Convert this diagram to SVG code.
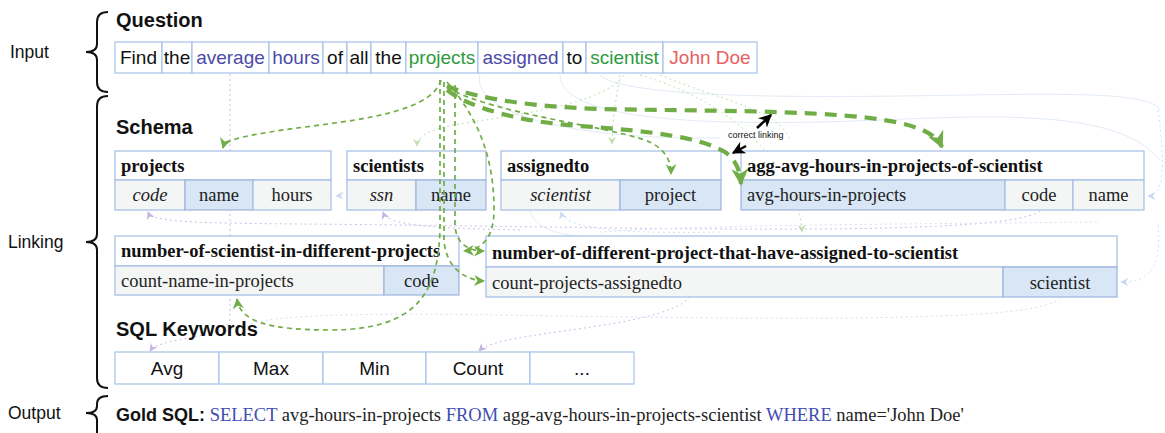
<svg xmlns="http://www.w3.org/2000/svg" width="1165" height="433" viewBox="0 0 1165 433">
<style>
.lbl{font-family:"Liberation Sans",Arial,sans-serif;font-size:17.5px;fill:#111}
.sec{font-family:"Liberation Sans",Arial,sans-serif;font-size:20px;font-weight:bold;fill:#111}
.q{font-family:"Liberation Sans",Arial,sans-serif;font-size:19px;text-anchor:middle;fill:#111}
.qb{fill:#4a4aa6}.qg{fill:#2e9a3e}.qr{fill:#e8605f}
.qbox{fill:#fff;stroke:#a6c1ea;stroke-width:1.2}
.hdr{fill:#fff;stroke:#a3bde6;stroke-width:1.2}
.cg{fill:#f4f5f5;stroke:#a3bde6;stroke-width:1.2}
.cb{fill:#d8e6f5;stroke:#9bb5dd;stroke-width:1.2}
.th{font-family:"Liberation Serif","Times New Roman",serif;font-size:18.5px;font-weight:bold;fill:#111}
.td{font-family:"Liberation Serif","Times New Roman",serif;font-size:18.5px;fill:#222}
.tc{text-anchor:middle}.it{font-style:italic}
.kw{font-family:"Liberation Sans",Arial,sans-serif;font-size:19px;text-anchor:middle;fill:#111}
.brace{fill:none;stroke:#111;stroke-width:2}
.gm{fill:none;stroke:#70ad47;stroke-width:1.7;stroke-dasharray:5 4}
.gt{fill:none;stroke:#70ad47;stroke-width:4.2;stroke-dasharray:12 8}
.fg{fill:none;stroke:#c3e0b0;stroke-width:1;stroke-dasharray:2 3}
.fp{fill:none;stroke:#cdbfe8;stroke-width:1;stroke-dasharray:2 3}
.fb{fill:none;stroke:#d3e1f3;stroke-width:1;stroke-dasharray:2 3}
.fs{fill:none;stroke:#e2ebf6;stroke-width:1}
.bk{fill:none;stroke:#000;stroke-width:2.5}
</style>
<defs>
<marker id="mg" markerUnits="userSpaceOnUse" viewBox="0 0 10 10" refX="9" refY="5" markerWidth="11" markerHeight="11" orient="auto"><path d="M0,0 L10,5 L0,10 L3,5 z" fill="#70ad47"/></marker>
<marker id="mgt" markerUnits="userSpaceOnUse" viewBox="0 0 10 10" refX="9" refY="5" markerWidth="17" markerHeight="17" orient="auto"><path d="M0,0 L10,5 L0,10 L3,5 z" fill="#70ad47"/></marker>
<marker id="mk" markerUnits="userSpaceOnUse" viewBox="0 0 10 10" refX="9" refY="5" markerWidth="13" markerHeight="13" orient="auto"><path d="M0,0 L10,5 L0,10 L3,5 z" fill="#000"/></marker>
<marker id="mfg" markerUnits="userSpaceOnUse" viewBox="0 0 10 10" refX="9" refY="5" markerWidth="8" markerHeight="8" orient="auto"><path d="M0,0 L10,5 L0,10 L3,5 z" fill="#c3e0b0"/></marker>
<marker id="mfp" markerUnits="userSpaceOnUse" viewBox="0 0 10 10" refX="9" refY="5" markerWidth="8" markerHeight="8" orient="auto"><path d="M0,0 L10,5 L0,10 L3,5 z" fill="#c2b3e3"/></marker>
<marker id="mfb" markerUnits="userSpaceOnUse" viewBox="0 0 10 10" refX="9" refY="5" markerWidth="8" markerHeight="8" orient="auto"><path d="M0,0 L10,5 L0,10 L3,5 z" fill="#c9daf0"/></marker>
</defs>
<rect width="1165" height="433" fill="#fff"/>

<g id="faint-connectors">
<path class="fs" d="M560 75 C560 118 690 128 880 120 C1000 115 1120 110 1160 160"/>
<path class="fs" d="M600 75 C620 95 760 98 900 96 C1050 94 1150 90 1160 110"/>
<path class="fs" d="M480 74 C470 110 560 140 720 138"/>
<path class="fs" d="M530 190 C520 230 560 240 620 236"/>
<path class="fg" d="M624 75 C600 110 480 118 440 128 C424 133 417 139 417 146" marker-end="url(#mfg)"/>
<path class="fg" d="M620 75 C616 100 612 120 612 144" marker-end="url(#mfg)"/>
<path class="fg" d="M640 75 C760 110 800 190 802 232" marker-end="url(#mfg)"/>
<path class="fg" d="M660 75 C720 100 780 110 790 140"/>
<path class="fp" d="M230 74 L230 318 C230 340 160 336 150 351" marker-end="url(#mfp)"/>
<path class="fp" d="M690 297 C660 330 500 330 479 351" marker-end="url(#mfp)"/>
<path class="fp" d="M1040 211 C1000 240 600 226 300 224 C190 223 152 222 148 212" marker-end="url(#mfp)"/>
<path class="fp" d="M520 230 C430 228 388 226 383 212" marker-end="url(#mfp)"/>
<path class="fb" d="M720 232 C630 234 566 230 561 212" marker-end="url(#mfb)"/>
<path class="fb" d="M360 150 C352 170 352 195 336 196" marker-end="url(#mfb)"/>
<path class="fb" d="M1158 110 C1165 160 1165 196 1148 196" marker-end="url(#mfb)"/>
<path class="fb" d="M1158 225 C1162 268 1150 282 1121 282" marker-end="url(#mfb)"/>
<path class="fb" d="M1060 298 C1040 318 900 322 500 315 C300 312 250 318 240 330"/>
<path class="fb" d="M600 232 C700 225 900 224 1100 222"/>
</g>

<g id="side-labels">
<path class="brace" d="M108 12 Q97 12 97 22 L97 44 Q97 52 86 52 Q97 52 97 60 L97 82 Q97 92 108 92"/>
<path class="brace" d="M108 96 Q97 96 97 106 L97 234 Q97 242 86 242 Q97 242 97 250 L97 378 Q97 388 108 388"/>
<path class="brace" d="M108 396 Q97 396 97 404 L97 406 Q97 413 86 413 Q97 413 97 420 L97 440"/>
<text class="lbl" x="10" y="58">Input</text>
<text class="lbl" x="8" y="248">Linking</text>
<text class="lbl" x="8" y="419">Output</text>
</g>

<text class="sec" x="116" y="27">Question</text>
<g id="question">
<rect class="qbox" x="115" y="42" width="47" height="31"/>
<rect class="qbox" x="162" y="42" width="30" height="31"/>
<rect class="qbox" x="192" y="42" width="77" height="31"/>
<rect class="qbox" x="269" y="42" width="54" height="31"/>
<rect class="qbox" x="323" y="42" width="24" height="31"/>
<rect class="qbox" x="347" y="42" width="24" height="31"/>
<rect class="qbox" x="371" y="42" width="35" height="31"/>
<rect class="qbox" x="406" y="42" width="72" height="31"/>
<rect class="qbox" x="478" y="42" width="85" height="31"/>
<rect class="qbox" x="563" y="42" width="23" height="31"/>
<rect class="qbox" x="586" y="42" width="77" height="31"/>
<rect class="qbox" x="663" y="42" width="94" height="31"/>
<text class="q" x="138.5" y="64">Find</text>
<text class="q" x="177" y="64">the</text>
<text class="q qb" x="230.5" y="64">average</text>
<text class="q qb" x="296" y="64">hours</text>
<text class="q" x="335" y="64">of</text>
<text class="q" x="359" y="64">all</text>
<text class="q" x="388.5" y="64">the</text>
<text class="q qg" x="442" y="64">projects</text>
<text class="q qb" x="520.5" y="64">assigned</text>
<text class="q" x="574.5" y="64">to</text>
<text class="q qg" x="624.5" y="64">scientist</text>
<text class="q qr" x="710" y="64">John Doe</text>
</g>

<text class="sec" x="116" y="134">Schema</text>

<g id="tbl-projects">
<rect class="hdr" x="115" y="151" width="216" height="29"/>
<rect class="cg" x="115" y="180" width="70" height="30"/>
<rect class="cb" x="185" y="180" width="68" height="30"/>
<rect class="cg" x="253" y="180" width="78" height="30"/>
<text class="th" x="121" y="172">projects</text>
<text class="td tc it" x="150" y="201">code</text>
<text class="td tc" x="219" y="201">name</text>
<text class="td tc" x="292" y="201">hours</text>
</g>

<g id="tbl-scientists">
<rect class="hdr" x="347" y="151" width="139" height="29"/>
<rect class="cg" x="347" y="180" width="69" height="30"/>
<rect class="cb" x="416" y="180" width="70" height="30"/>
<text class="th" x="353" y="172">scientists</text>
<text class="td tc it" x="381.5" y="201">ssn</text>
<text class="td tc" x="451" y="201">name</text>
</g>

<g id="tbl-assignedto">
<rect class="hdr" x="501" y="151" width="220" height="29"/>
<rect class="cg" x="501" y="180" width="119" height="30"/>
<rect class="cb" x="620" y="180" width="101" height="30"/>
<text class="th" x="507" y="172">assignedto</text>
<text class="td tc it" x="560.5" y="201">scientist</text>
<text class="td tc" x="670.5" y="201">project</text>
</g>

<g id="tbl-agg">
<rect class="hdr" x="741" y="151" width="403" height="29"/>
<rect class="cb" x="741" y="180" width="264" height="30"/>
<rect class="cg" x="1005" y="180" width="68" height="30"/>
<rect class="cg" x="1073" y="180" width="71" height="30"/>
<text class="th" x="747" y="172">agg-avg-hours-in-projects-of-scientist</text>
<text class="td" x="747" y="201">avg-hours-in-projects</text>
<text class="td tc" x="1039" y="201">code</text>
<text class="td tc" x="1108.5" y="201">name</text>
</g>

<g id="tbl-num-sci">
<rect class="hdr" x="115" y="236" width="344" height="30"/>
<rect class="cg" x="115" y="266" width="269" height="29"/>
<rect class="cb" x="384" y="266" width="75" height="29"/>
<text class="th" x="121" y="257">number-of-scientist-in-different-projects</text>
<text class="td" x="121" y="287">count-name-in-projects</text>
<text class="td tc" x="421.5" y="287">code</text>
</g>

<g id="tbl-num-proj">
<rect class="hdr" x="486" y="236" width="631" height="31"/>
<rect class="cg" x="486" y="267" width="517" height="30"/>
<rect class="cb" x="1003" y="267" width="114" height="30"/>
<text class="th" x="492" y="259">number-of-different-project-that-have-assigned-to-scientist</text>
<text class="td" x="492" y="289">count-projects-assignedto</text>
<text class="td tc" x="1060" y="289">scientist</text>
</g>

<text class="sec" x="116" y="336">SQL Keywords</text>
<g id="keywords">
<rect class="qbox" x="115" y="352" width="104" height="32"/>
<rect class="qbox" x="219" y="352" width="104" height="32"/>
<rect class="qbox" x="323" y="352" width="103" height="32"/>
<rect class="qbox" x="426" y="352" width="104" height="32"/>
<rect class="qbox" x="530" y="352" width="104" height="32"/>
<text class="kw" x="167" y="375">Avg</text>
<text class="kw" x="271" y="375">Max</text>
<text class="kw" x="374.5" y="375">Min</text>
<text class="kw" x="478" y="375">Count</text>
<text class="kw" x="582" y="375">...</text>
</g>

<g id="connectors">
<path class="gm" d="M441 80 C430 118 330 122 270 132 C240 137 225 140 223 148" marker-end="url(#mg)"/>
<path class="gm" d="M440 80 L440 230 C438 290 420 330 330 330 C270 330 240 322 237 299" marker-end="url(#mg)"/>
<path class="gm" d="M447 82 C480 120 494 160 494 210 C494 240 480 250 464 251" marker-end="url(#mg)"/>
<path class="gm" d="M455 85 L455 225 C456 245 470 251 484 251" marker-end="url(#mg)"/>
<path class="gm" d="M444 82 L444 240 C446 268 465 280 484 281" marker-end="url(#mg)"/>
<path class="gm" d="M447 88 C500 115 600 125 645 140 C665 148 671 160 671 174" marker-end="url(#mg)"/>
<path class="gt" d="M447 86 C480 100 540 107 600 109 C700 111 800 110 870 118 C915 124 935 132 942 147" marker-end="url(#mgt)"/>
<path class="gt" d="M447 90 C470 108 520 122 580 126 C650 131 700 137 725 152 C736 160 740 170 741 184" marker-end="url(#mgt)"/>
<path class="bk" d="M757 128 L771 115" marker-end="url(#mk)"/>
<path class="bk" d="M746 146 L733 153" marker-end="url(#mk)"/>
<text x="728" y="138" style="font-family:'Liberation Sans',Arial,sans-serif;font-size:9px;fill:#111">correct linking</text>
</g>

<g id="gold-sql">
<text x="116" y="421" style="font-family:'Liberation Serif','Times New Roman',serif;font-size:18.5px;fill:#222"><tspan style="font-family:'Liberation Sans',Arial,sans-serif;font-weight:bold;font-size:18px;fill:#111">Gold SQL:</tspan> <tspan fill="#3f4db0">SELECT</tspan> avg-hours-in-projects <tspan fill="#3f4db0">FROM</tspan> agg-avg-hours-in-projects-scientist <tspan fill="#3f4db0">WHERE</tspan> name='John Doe'</text>
</g>
</svg>
